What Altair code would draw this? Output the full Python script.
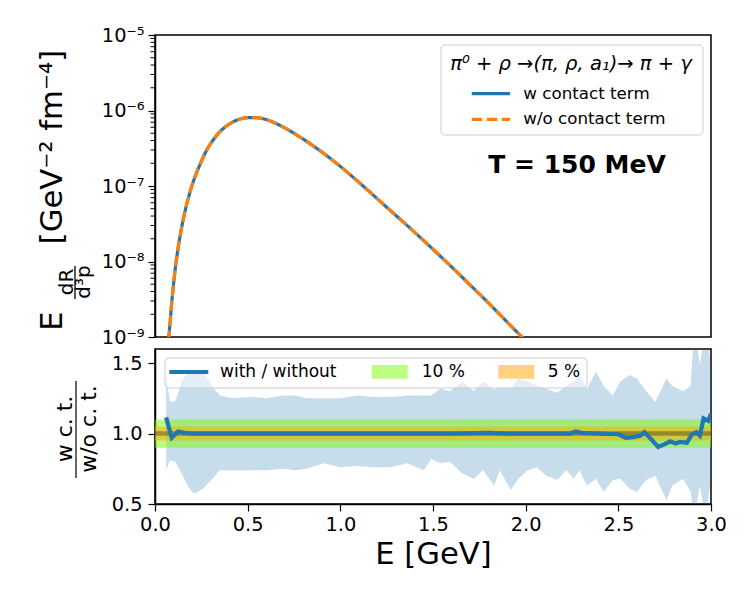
import altair as alt
import pandas as pd

# ---------------------------------------------------------------- data
# photon energy grid for the rate curves [GeV]
energy = [0.065, 0.070, 0.075, 0.080, 0.090, 0.100, 0.110, 0.120, 0.130, 0.140,
          0.150, 0.160, 0.170, 0.180, 0.190, 0.200, 0.220, 0.240, 0.260, 0.280,
          0.300, 0.325, 0.350, 0.375, 0.400, 0.450, 0.500, 0.550, 0.600, 0.700,
          0.800, 0.900, 1.000, 1.100, 1.200, 1.300, 1.400, 1.500, 1.600, 1.700,
          1.800, 1.900, 2.000, 2.100]
# E dR/d^3p with the contact term [GeV^-2 fm^-4]
rate_w = [3.55e-10, 6.31e-10, 1.00e-9, 1.41e-9, 2.82e-9, 5.01e-9, 8.32e-9, 1.26e-8,
          1.82e-8, 2.51e-8, 3.39e-8, 4.37e-8, 5.62e-8, 6.92e-8, 8.51e-8, 1.02e-7,
          1.41e-7, 1.86e-7, 2.40e-7, 3.02e-7, 3.63e-7, 4.42e-7, 5.25e-7, 5.96e-7,
          6.61e-7, 7.59e-7, 8.04e-7, 8.04e-7, 7.59e-7, 5.89e-7, 4.17e-7, 2.82e-7,
          1.82e-7, 1.12e-7, 6.76e-8, 4.07e-8, 2.45e-8, 1.45e-8, 8.51e-9, 4.90e-9,
          2.82e-9, 1.58e-9, 8.91e-10, 4.90e-10]
# without the contact term (identical within the line width)
rate_wo = [3.55e-10, 6.31e-10, 1.00e-9, 1.41e-9, 2.82e-9, 5.01e-9, 8.32e-9, 1.26e-8,
           1.82e-8, 2.51e-8, 3.39e-8, 4.37e-8, 5.62e-8, 6.92e-8, 8.51e-8, 1.02e-7,
           1.41e-7, 1.86e-7, 2.40e-7, 3.02e-7, 3.63e-7, 4.42e-7, 5.25e-7, 5.96e-7,
           6.61e-7, 7.59e-7, 8.04e-7, 8.04e-7, 7.59e-7, 5.89e-7, 4.17e-7, 2.82e-7,
           1.82e-7, 1.12e-7, 6.76e-8, 4.07e-8, 2.45e-8, 1.45e-8, 8.51e-9, 4.90e-9,
           2.82e-9, 1.58e-9, 8.91e-10, 4.90e-10]

# ratio with / without and its uncertainty band
ratio_energy = [0.06, 0.09, 0.125, 0.16, 0.20, 0.30, 0.50, 0.80, 1.00, 1.30,
                1.60, 1.80, 1.90, 2.00, 2.10, 2.20, 2.24, 2.27, 2.30, 2.40,
                2.50, 2.54, 2.58, 2.62, 2.64, 2.67, 2.715, 2.75, 2.78, 2.81,
                2.83, 2.87, 2.895, 2.92, 2.94, 2.96, 2.985, 3.00]
ratio = [1.115, 0.970, 1.015, 1.005, 1.000, 1.000, 1.000, 1.000, 1.000, 1.000,
         1.000, 1.005, 1.000, 1.000, 1.000, 1.000, 1.000, 1.015, 1.005, 1.000,
         0.995, 0.970, 0.975, 0.985, 1.010, 0.970, 0.905, 0.925, 0.945, 0.930,
         0.940, 0.935, 0.990, 1.010, 0.985, 1.107, 1.090, 1.140]

band_energy = [0.06, 0.08, 0.11, 0.15, 0.18, 0.21, 0.26, 0.31, 0.35, 0.42,
               0.51, 0.60, 0.69, 0.76, 0.82, 0.91, 1.00, 1.09, 1.18, 1.27,
               1.36, 1.45, 1.49, 1.54, 1.59, 1.66, 1.72, 1.77, 1.83, 1.86,
               1.92, 1.96, 2.01, 2.06, 2.11, 2.17, 2.22, 2.26, 2.29, 2.33,
               2.38, 2.42, 2.47, 2.51, 2.56, 2.60, 2.65, 2.70, 2.76, 2.79,
               2.85, 2.89, 2.91, 2.94, 2.97, 3.00]
band_upper = [1.415, 1.225, 1.23, 1.39, 1.43, 1.45, 1.44, 1.33, 1.27, 1.25,
              1.26, 1.25, 1.27, 1.27, 1.25, 1.25, 1.25, 1.27, 1.26, 1.26,
              1.27, 1.27, 1.27, 1.32, 1.30, 1.37, 1.30, 1.37, 1.31, 1.33,
              1.32, 1.39, 1.37, 1.34, 1.32, 1.29, 1.34, 1.37, 1.415, 1.32,
              1.44, 1.34, 1.27, 1.37, 1.415, 1.39, 1.30, 1.225, 1.39, 1.34,
              1.30, 1.34, 1.75, 1.49, 1.75, 1.49]
band_lower = [0.74, 0.81, 0.80, 0.70, 0.62, 0.573, 0.61, 0.68, 0.74, 0.74,
              0.74, 0.74, 0.75, 0.74, 0.75, 0.79, 0.76, 0.77, 0.76, 0.76,
              0.79, 0.74, 0.82, 0.79, 0.80, 0.715, 0.68, 0.74, 0.63, 0.74,
              0.60, 0.68, 0.74, 0.76, 0.70, 0.67, 0.74, 0.68, 0.74, 0.63,
              0.68, 0.585, 0.67, 0.68, 0.61, 0.585, 0.67, 0.70, 0.525, 0.63,
              0.68, 0.585, 0.40, 0.63, 0.40, 0.68]

# tolerance bands around one
tol_lower = [0.90, 0.95]
tol_upper = [1.10, 1.05]
tol_names = ["10 %", "5 %"]

x_domain = [0.0, 3.0]
x_ticks = [0.0, 0.5, 1.0, 1.5, 2.0, 2.5, 3.0]
y_domain_top = [1e-9, 1e-5]
y_major = [1e-9, 1e-8, 1e-7, 1e-6, 1e-5]
y_major_text = ["10⁻⁹", "10⁻⁸", "10⁻⁷", "10⁻⁶", "10⁻⁵"]
y_minor = [m * 10.0 ** e for e in range(-9, -5) for m in range(2, 10)]
y_domain_bot = [0.5, 1.6]
y_ticks_bot = [0.5, 1.0, 1.5]

legend_top = ["w contact term", "w/o contact term"]
legend_title = "π⁰ + ρ →(π, ρ, a₁)→ π + γ"
temperature = "T = 150 MeV"
legend_bot = ["with / without", "10 %", "5 %"]

BLUE = "#1f77b4"
ORANGE = "#ff7f0e"
FONT = "DejaVu Sans"

W = 556
H_TOP = 302
H_BOT = 155

# ---------------------------------------------------------------- helpers
one = pd.DataFrame({"k": [0]})


def label(txt, x, y, size, **kw):
    return alt.Chart(pd.DataFrame({"t": [txt]})).mark_text(
        font=FONT, fontSize=size, color="black", **kw
    ).encode(text="t:N", x=alt.value(x), y=alt.value(y))


def segment(x0, x1, y, **kw):
    return alt.Chart(one).mark_rule(**kw).encode(
        x=alt.value(x0), x2=alt.value(x1), y=alt.value(y))


def vsegment(x, y0, y1, **kw):
    return alt.Chart(one).mark_rule(**kw).encode(
        x=alt.value(x), y=alt.value(y0), y2=alt.value(y1))


def box(x0, x1, y0, y1, **kw):
    return alt.Chart(one).mark_rect(**kw).encode(
        x=alt.value(x0), x2=alt.value(x1), y=alt.value(y0), y2=alt.value(y1))


tick_style = dict(domainColor="black", domainWidth=1.5, tickColor="black",
                  tickWidth=1.2, labelColor="black", labelFont=FONT,
                  labelFontSize=19.4, grid=False, labelFlush=False)

xs = alt.Scale(domain=x_domain, nice=False, zero=False)

# ---------------------------------------------------------------- top panel
ys_top = alt.Scale(type="log", domain=y_domain_top, nice=False)
label_expr = " : ".join(
    f"datum.value < {v * 3:.0e} ? '{t}'" for v, t in zip(y_major[:-1], y_major_text[:-1])
) + f" : '{y_major_text[-1]}'"
y_axis_top = alt.Axis(values=y_major, labelExpr=label_expr, tickSize=7,
                      labelPadding=4, title=None, orient="left", **tick_style)

rates = pd.DataFrame({"E": energy, "w": rate_w, "wo": rate_wo})

line_w = alt.Chart(rates).mark_line(
    color=BLUE, strokeWidth=3.2, clip=True, interpolate="monotone"
).encode(
    x=alt.X("E:Q", scale=xs, axis=None),
    y=alt.Y("w:Q", scale=ys_top, axis=y_axis_top),
)
line_wo = alt.Chart(rates).mark_line(
    color=ORANGE, strokeWidth=3.2, strokeDash=[10.5, 4.5], clip=True,
    interpolate="monotone"
).encode(
    x=alt.X("E:Q", scale=xs, axis=None),
    y=alt.Y("wo:Q", scale=ys_top, axis=y_axis_top),
)

# minor ticks of the log axis (2..9 x 10^k)
minor = alt.Chart(pd.DataFrame({"m": y_minor})).mark_rule(
    color="black", strokeWidth=1.0
).encode(
    y=alt.Y("m:Q", scale=ys_top, axis=y_axis_top),
    x=alt.value(-4.5), x2=alt.value(0),
)

top_legend = [
    box(286, 548, 10, 100, fill="white", fillOpacity=0.8, stroke="#cccccc",
        strokeWidth=1, cornerRadius=4),
    label(legend_title, 416, 28.7, 19.5, align="center", baseline="middle",
          fontStyle="italic"),
    segment(316.7, 355, 58.7, color=BLUE, strokeWidth=3.2),
    segment(316.7, 355, 84.3, color=ORANGE, strokeWidth=3.2, strokeDash=[10.5, 4.5]),
    label(legend_top[0], 368.3, 58.7, 16.7, align="left", baseline="middle"),
    label(legend_top[1], 368.3, 84.3, 16.7, align="left", baseline="middle"),
    label(temperature, 422, 130.3, 25, align="center", baseline="middle",
          fontWeight="bold"),
]

# y title: E dR/d^3p [GeV^-2 fm^-4], written bottom-to-top
top_ytitle = [
    label("E", -93, 286, 30.6, angle=270, align="center", baseline="alphabetic"),
    label("[GeV⁻² fm⁻⁴]", -93, 112, 30.6, angle=270, align="center",
          baseline="alphabetic"),
    label("dR", -82, 247, 20, angle=270, align="center", baseline="alphabetic"),
    vsegment(-80, 231, 264, color="black", strokeWidth=1.3),
    label("d³p", -65, 247, 20, angle=270, align="center", baseline="alphabetic"),
]

top = alt.layer(line_w, line_wo, minor, *top_legend, *top_ytitle).properties(
    width=W, height=H_TOP)

# ---------------------------------------------------------------- bottom panel
ys_bot = alt.Scale(domain=y_domain_bot, nice=False, zero=False)
x_axis_bot = alt.Axis(
    values=x_ticks, format=".1f", tickSize=7, labelPadding=4,
    title="E [GeV]", titleFont=FONT, titleFontSize=30.6,
    titleFontWeight="normal", titleColor="black", titlePadding=6, **tick_style)
y_axis_bot = alt.Axis(values=y_ticks_bot, format=".1f", tickSize=7,
                      labelPadding=6, title=None, **tick_style)

band = pd.DataFrame({"E": band_energy, "up": band_upper, "lo": band_lower})
band_area = alt.Chart(band).mark_area(color=BLUE, opacity=0.25, clip=True).encode(
    x=alt.X("E:Q", scale=xs, axis=x_axis_bot),
    y=alt.Y("up:Q", scale=ys_bot, axis=y_axis_bot),
    y2="lo:Q",
)

tol = pd.DataFrame({"lo": tol_lower, "hi": tol_upper, "name": tol_names,
                    "e0": x_domain[0], "e1": x_domain[1]})
tol_10 = alt.Chart(tol.iloc[[0]]).mark_rect(color="#7CFC00", opacity=0.5).encode(
    x=alt.X("e0:Q", scale=xs, axis=x_axis_bot), x2="e1:Q",
    y=alt.Y("lo:Q", scale=ys_bot, axis=y_axis_bot), y2="hi:Q")
tol_5 = alt.Chart(tol.iloc[[1]]).mark_rect(color="#FFA500", opacity=0.5).encode(
    x=alt.X("e0:Q", scale=xs, axis=x_axis_bot), x2="e1:Q",
    y=alt.Y("lo:Q", scale=ys_bot, axis=y_axis_bot), y2="hi:Q")
unity = alt.Chart(pd.DataFrame({"u": [1.0]})).mark_rule(
    color="black", opacity=0.3, strokeWidth=4.5
).encode(y=alt.Y("u:Q", scale=ys_bot, axis=y_axis_bot))

ratios = pd.DataFrame({"E": ratio_energy, "r": ratio})
ratio_line = alt.Chart(ratios).mark_line(color=BLUE, strokeWidth=4.2, clip=True).encode(
    x=alt.X("E:Q", scale=xs, axis=x_axis_bot),
    y=alt.Y("r:Q", scale=ys_bot, axis=y_axis_bot))

bot_legend = [
    box(10, 432, 9, 39, fill="white", fillOpacity=0.5, stroke="#cccccc",
        strokeWidth=1, cornerRadius=4),
    segment(14.3, 53.3, 23, color=BLUE, strokeWidth=4.2),
    label(legend_bot[0], 65, 23, 17, align="left", baseline="middle"),
    box(216.7, 252.7, 16, 29.7, fill="#7CFC00", fillOpacity=0.5),
    label(legend_bot[1], 266.7, 23, 17, align="left", baseline="middle"),
    box(343.3, 379.3, 16, 29.7, fill="#FFA500", fillOpacity=0.5),
    label(legend_bot[2], 392.7, 23, 17, align="left", baseline="middle"),
]

# y title: (w c. t.) / (w/o c. t.)
bot_ytitle = [
    label("w c. t.", -83, 80, 22, angle=270, align="center", baseline="alphabetic"),
    vsegment(-79, 32, 129, color="black", strokeWidth=1.2),
    label("w/o c. t.", -59, 80, 22, angle=270, align="center", baseline="alphabetic"),
]

bottom = alt.layer(band_area, tol_10, tol_5, unity, ratio_line,
                   *bot_legend, *bot_ytitle).properties(width=W, height=H_BOT)

chart = alt.vconcat(top, bottom, spacing=0).properties(
    padding={"left": 37, "top": 24, "right": 5, "bottom": 5}
).configure(font=FONT).configure_view(stroke="black", strokeWidth=1.5)

chart.save("out.html", embed_options={"renderer": "svg", "actions": False})
